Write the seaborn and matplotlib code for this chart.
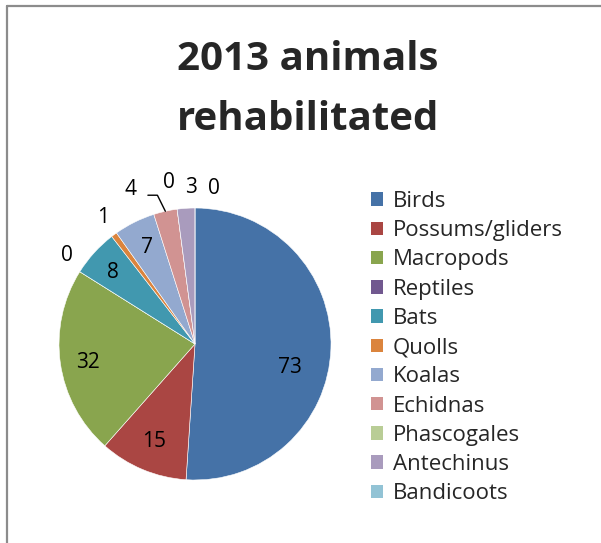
import numpy as np
import matplotlib
matplotlib.use('Agg')
import matplotlib.pyplot as plt
import seaborn as sns
from matplotlib.patches import Patch

# data
animals = ['Birds', 'Possums/gliders', 'Macropods', 'Reptiles', 'Bats', 'Quolls',
           'Koalas', 'Echidnas', 'Phascogales', 'Antechinus', 'Bandicoots']
counts = [73, 15, 32, 0, 8, 1, 7, 4, 0, 3, 0]
title = '2013 animals\nrehabilitated'

colours = ['#4572A7', '#AA4643', '#89A54E', '#71588F', '#4198AF', '#DB843D',
           '#93A9CF', '#D19392', '#B9CD96', '#A99BBD', '#92C3D5']

# label placement (radius factor, angle nudge in degrees) - Excel "best fit" look
label_r = [0.72, 0.78, 0.80, 1.14, 0.80, 1.15, 0.79, 1.23, 1.20, 1.15, 1.15]
label_nudge = [-11.7, 0, 1.5, -2.5, 1, -0.7, 0, 10.2, 1.6, -2.3, -7]

sns.set_theme(style='white')
plt.rcParams['font.family'] = ['Open Sans', 'DejaVu Sans']

fig = plt.figure(figsize=(6.01, 5.43), dpi=100)

# chart area border (top and left visible in reference)
fig.add_artist(plt.Line2D([7 / 601, 7 / 601], [0, 1 - 5.5 / 543], color='#8c8c8c', lw=1.6))
fig.add_artist(plt.Line2D([7 / 601, 1], [1 - 5.5 / 543, 1 - 5.5 / 543], color='#8c8c8c', lw=1.6))

ax = fig.add_axes([(195 - 136) / 601, (543 - 344 - 136) / 543, 272 / 601, 272 / 543])
wedges, _ = ax.pie(counts, colors=colours, startangle=90, counterclock=False,
                   radius=1.0, wedgeprops=dict(edgecolor='white', linewidth=0.4))
ax.set_xlim(-1, 1)
ax.set_ylim(-1, 1)
ax.set_aspect('equal')
ax.axis('off')

total = float(sum(counts))
cum = 0.0
for i, v in enumerate(counts):
    mid = cum + v / 2.0
    cum += v
    ang = np.deg2rad(90 - mid / total * 360 + label_nudge[i])
    x = label_r[i] * np.cos(ang)
    y = label_r[i] * np.sin(ang)
    ax.text(x, y, str(v), ha='center', va='center', fontsize=15, color='black')
    if animals[i] == 'Echidnas':
        a0 = np.deg2rad(90 - mid / total * 360)
        ex, ey = np.cos(a0), np.sin(a0)
        ax.plot([x + 0.13, x + 0.20, ex], [y - 0.04, y - 0.04, ey],
                color='black', lw=1.0, clip_on=False)

fig.text(0.512, 0.835, title, ha='center', va='center', fontsize=29,
         fontweight='bold', linespacing=1.72)

handles = [Patch(facecolor=c, edgecolor='none') for c in colours]
fig.legend(handles, animals, loc='upper left', bbox_to_anchor=(371 / 601, 1 - 191 / 543),
           frameon=False, fontsize=16, handlelength=0.55, handleheight=0.55,
           handletextpad=0.42, labelspacing=0.37, borderpad=0, borderaxespad=0)

fig.savefig('out.png', dpi=100, facecolor='white')
